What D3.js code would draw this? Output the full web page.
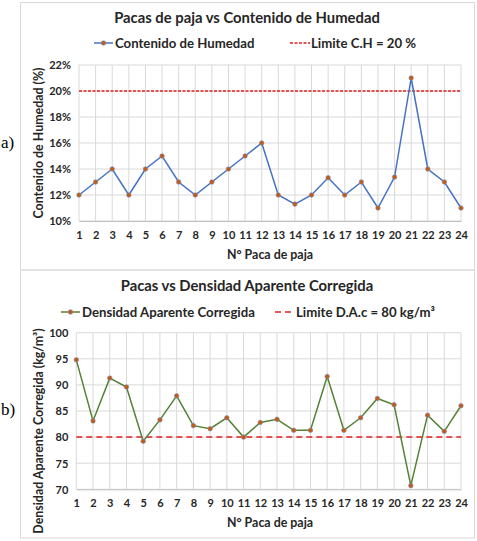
<!DOCTYPE html>
<html>
<head>
<meta charset="utf-8">
<script src="https://cdn.jsdelivr.net/npm/d3@7"></script>
<style>
  body { margin: 0; background: #fff; }
  text { font-family: Lato, "Open Sans", sans-serif; font-weight: bold; fill: #262626; }
  text.tag { font-family: "Liberation Serif", serif; font-weight: normal; fill: #000; }
</style>
</head>
<body>
<div id="vis"></div>
<script>
// datos
var pacas = d3.range(1, 25);
var humedad = [12, 13, 14, 12, 14, 15, 13, 12, 13, 14, 15, 16, 12, 11.3, 12, 13.33, 12, 13, 11, 13.38, 21, 14, 13, 11];
var humedadTicks = [10, 12, 14, 16, 18, 20, 22];
var limiteHumedad = 20;

var densidad = [94.8, 83.1, 91.3, 89.6, 79.2, 83.3, 87.9, 82.2, 81.6, 83.7, 80.0, 82.8, 83.4, 81.3, 81.3, 91.6, 81.3, 83.7, 87.4, 86.2, 70.7, 84.2, 81.1, 86.0];
var densidadTicks = [70, 75, 80, 85, 90, 95, 100];
var limiteDensidad = 80;

var W = 477, H = 541;
var svg = d3.select("#vis").append("svg")
            .attr("width", W)
            .attr("height", H)

function panel(cfg) {
  var g = svg.append("g")

  // marco
  g.append("rect")
   .attr("x", 20.5).attr("y", cfg.frameY)
   .attr("width", 454).attr("height", cfg.frameH)
   .attr("fill", "none").attr("stroke", "#d9d9d9")

  var x = d3.scalePoint().domain(pacas).range([cfg.x0, 461])
  var y = d3.scaleLinear().domain(cfg.domain).range([cfg.y1, cfg.y0])

  // rejilla
  g.append("g").selectAll("line").data(cfg.ticks).enter()
   .append("line")
   .attr("x1", cfg.x0).attr("x2", 461)
   .attr("y1", d => y(d)).attr("y2", d => y(d))
   .attr("stroke", "#d9d9d9")
  g.append("g").selectAll("line").data(pacas).enter()
   .append("line")
   .attr("x1", d => x(d)).attr("x2", d => x(d))
   .attr("y1", cfg.y0).attr("y2", cfg.y1)
   .attr("stroke", "#d9d9d9")

  // ejes
  var yAxis = g.append("g")
    .attr("transform", `translate(${cfg.x0 - 5},0)`)
    .call(d3.axisLeft(y).tickValues(cfg.ticks).tickSize(0).tickFormat(cfg.fmt))
  yAxis.select(".domain").remove()
  yAxis.selectAll("text").attr("font-size", 11).attr("dy", "0.35em")

  var xAxis = g.append("g")
    .attr("transform", `translate(0,${cfg.y1})`)
    .call(d3.axisBottom(x).tickSize(0).tickPadding(10))
  xAxis.select(".domain").attr("stroke", "#bfbfbf")
  xAxis.selectAll("text").attr("font-size", 11)

  // titulos
  g.append("text").attr("x", 247).attr("y", cfg.titleY)
   .attr("text-anchor", "middle").attr("font-size", 14.8).text(cfg.title)
  g.append("text").attr("x", 270).attr("y", cfg.y1 + 38)
   .attr("text-anchor", "middle").attr("font-size", 12.4).text("N° Paca de paja")
  g.append("text")
   .attr("transform", `translate(43,${cfg.yTitleY}) rotate(-90)`)
   .attr("text-anchor", "middle").attr("font-size", 12.4).text(cfg.yTitle)
  g.append("text").attr("class", "tag").attr("x", 1).attr("y", cfg.tagY)
   .attr("font-size", 17).text(cfg.tag)

  // linea limite
  g.append("line")
   .attr("x1", cfg.x0).attr("x2", 461)
   .attr("y1", y(cfg.limit)).attr("y2", y(cfg.limit))
   .attr("stroke", "#e02020").attr("stroke-width", 1.5)
   .attr("stroke-dasharray", cfg.dash)

  // serie
  var line = d3.line().x((d, i) => x(pacas[i])).y(d => y(d))
  g.append("path").datum(cfg.values)
   .attr("d", line).attr("fill", "none")
   .attr("stroke", cfg.color).attr("stroke-width", 1.5)
  g.append("g").selectAll("circle").data(cfg.values).enter()
   .append("circle")
   .attr("cx", (d, i) => x(pacas[i]))
   .attr("cy", d => y(d))
   .attr("r", 2.3)
   .attr("fill", "#c55a11")
   .attr("stroke", "#7f8fc0").attr("stroke-width", 0.6)

  // leyenda
  var lg = g.append("g").attr("transform", `translate(0,${cfg.legY})`)
  lg.append("line").attr("x1", cfg.leg1).attr("x2", cfg.leg1 + 19)
    .attr("stroke", cfg.color).attr("stroke-width", 1.5)
  lg.append("circle").attr("cx", cfg.leg1 + 9.5).attr("r", 2.3)
    .attr("fill", "#c55a11").attr("stroke", "#7f8fc0").attr("stroke-width", 0.6)
  lg.append("text").attr("x", cfg.leg1 + 21).attr("dy", "0.35em")
    .attr("font-size", 13.2).text(cfg.serieName)
  lg.append("line").attr("x1", cfg.leg2).attr("x2", cfg.leg2 + 20)
    .attr("stroke", "#e02020").attr("stroke-width", 1.5)
    .attr("stroke-dasharray", cfg.dash)
  lg.append("text").attr("x", cfg.leg2 + 21).attr("dy", "0.35em")
    .attr("font-size", 13.2).text(cfg.limitName)
}

panel({
  frameY: 2.5, frameH: 267.5,
  x0: 79, y0: 65, y1: 221,
  domain: [10, 22], ticks: humedadTicks, fmt: d => d + "%",
  values: humedad, limit: limiteHumedad, color: "#4472c4", dash: "3,1.5",
  title: "Pacas de paja vs Contenido de Humedad", titleY: 23,
  yTitle: "Contenido de Humedad (%)", yTitleY: 143, tag: "a)", tagY: 148,
  legY: 43, leg1: 94, leg2: 290,
  serieName: "Contenido de Humedad", limitName: "Limite C.H = 20 %"
})

panel({
  frameY: 270, frameH: 268,
  x0: 76.3, y0: 332.7, y1: 489.3,
  domain: [70, 100], ticks: densidadTicks, fmt: d => d,
  values: densidad, limit: limiteDensidad, color: "#548235", dash: "6,4",
  title: "Pacas vs Densidad Aparente Corregida", titleY: 291,
  yTitle: "Densidad Aparente Corregida (kg/m³)", yTitleY: 431, tag: "b)", tagY: 415,
  legY: 312, leg1: 61, leg2: 275,
  serieName: "Densidad Aparente Corregida", limitName: "Limite D.A.c = 80 kg/m³"
})
</script>
</body>
</html>
